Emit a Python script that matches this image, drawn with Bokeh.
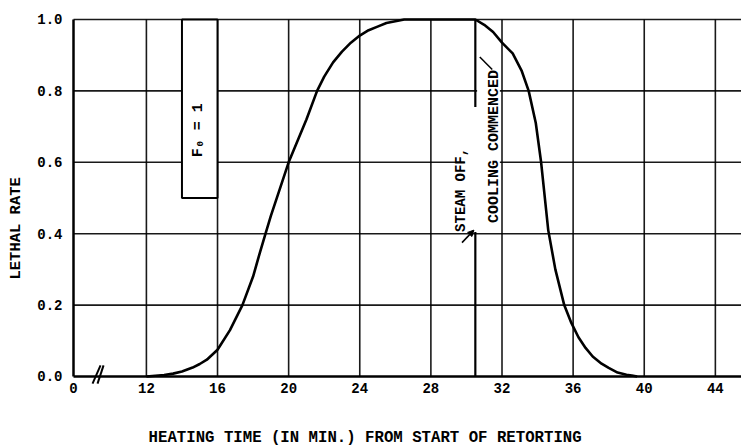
from bokeh.plotting import figure
from bokeh.models import FixedTicker, Label, Arrow, NormalHead
from bokeh.embed import file_html
from bokeh.resources import INLINE
import math

# ---- data ----
time_min = [12, 13, 13.5, 14, 14.6, 15, 15.4, 16, 16.7, 17.4, 18, 18.4, 18.7, 19, 20, 21,
            21.6, 22, 22.5, 23, 23.5, 24, 24.5, 25, 25.5, 26, 26.5, 30.5, 31, 31.5, 32, 32.6,
            33.1, 33.5, 33.9, 34.2, 34.6, 35.0, 35.5, 35.9, 36.3, 36.7, 37.1, 37.6, 38.0,
            38.5, 39.0, 39.3, 39.6]
lethal_rate = [0, 0.004, 0.008, 0.014, 0.025, 0.035, 0.047, 0.075, 0.13, 0.2, 0.28, 0.35, 0.4,
               0.45, 0.6, 0.72, 0.8, 0.84, 0.88, 0.91, 0.935, 0.955, 0.97, 0.98, 0.99, 0.995,
               1.0, 1.0, 0.985, 0.965, 0.935, 0.905, 0.857, 0.8, 0.71, 0.6, 0.41, 0.3, 0.2,
               0.15, 0.11, 0.08, 0.056, 0.036, 0.024, 0.011, 0.005, 0.003, 0.0]

x_origin = 7.9          # where the broken time axis shows "0"
x_end = 45.47
x_ticks = [7.9, 12, 16, 20, 24, 28, 32, 36, 40, 44]
x_tick_labels = ["0", "12", "16", "20", "24", "28", "32", "36", "40", "44"]
x_grid = [12, 16, 20, 24, 28, 32, 36, 40, 44]
y_ticks = [0.0, 0.2, 0.4, 0.6, 0.8, 1.0]
y_tick_labels = ["0.0", "0.2", "0.4", "0.6", "0.8", "1.0"]
y_grid = [0.2, 0.4, 0.6, 0.8, 1.0]

x_title = "HEATING TIME (IN MIN.) FROM START OF RETORTING"
y_title = "LETHAL RATE"

steam_off_time = 30.5
steam_line_y0 = [1.0, 0.405]
steam_line_y1 = [0.755, 0.0]

f0_box = dict(left=14, right=16, bottom=0.5, top=1.0)

# gaps in the grid around the hand-typed notes
mask_left = [29.9, 30.6]
mask_right = [31.88, 31.88]
mask_bottom = [0.45, 0.76]
mask_top = [0.75, 0.84]

# axis-break mark "//"
break_x0 = [8.97, 9.25]
break_x1 = [9.42, 9.59]
break_y0 = [-0.02, -0.02]
break_y1 = [0.031, 0.031]

FONT = "Liberation Mono"

# the frame covers the whole page; axes are pinned at the chart's origin
p = figure(width=741, height=448, output_backend="svg", toolbar_location=None,
           x_range=(3.794, x_end), y_range=(-0.2017, 1.0532),
           min_border_left=0, min_border_right=0, min_border_top=0, min_border_bottom=0)
p.outline_line_color = None
p.background_fill_color = "white"
p.border_fill_color = "white"
p.grid.visible = False

# axes
p.xaxis.fixed_location = 0
p.yaxis.fixed_location = x_origin
p.xaxis.bounds = (x_origin, x_end)
p.yaxis.bounds = (0, 1)
p.xaxis.ticker = FixedTicker(ticks=x_ticks)
p.xaxis.major_label_overrides = {t: l for t, l in zip(x_ticks, x_tick_labels)}
p.yaxis.ticker = FixedTicker(ticks=y_ticks)
p.yaxis.major_label_overrides = {t: l for t, l in zip(y_ticks, y_tick_labels)}
for ax in (p.xaxis, p.yaxis):
    ax.major_tick_in = 0
    ax.major_tick_out = 0
    ax.minor_tick_in = 0
    ax.minor_tick_out = 0
    ax.axis_line_color = "black"
    ax.axis_line_width = 2.5
    ax.major_label_text_font = FONT
    ax.major_label_text_font_style = "bold"
    ax.major_label_text_font_size = "14px"
    ax.major_label_text_color = "black"
p.xaxis.major_label_standoff = 7
p.yaxis.major_label_standoff = 11

# grid lines, limited to the chart area
p.segment(x0=x_grid, y0=[0] * len(x_grid), x1=x_grid, y1=[1] * len(x_grid),
          line_color="black", line_width=1.6, line_alpha=0.9)
p.segment(x0=[x_origin] * len(y_grid), y0=y_grid, x1=[x_end] * len(y_grid), y1=y_grid,
          line_color="black", line_width=1.6, line_alpha=0.9)

# gaps in the grid where the notes are typed
p.quad(left=mask_left, right=mask_right, bottom=mask_bottom, top=mask_top,
       fill_color="white", line_color=None)

# F0 box
p.quad(left=[f0_box["left"]], right=[f0_box["right"]], bottom=[f0_box["bottom"]],
       top=[f0_box["top"]], fill_color="white", line_color="black", line_width=2)

# steam off line
p.segment(x0=[steam_off_time] * 2, y0=steam_line_y0, x1=[steam_off_time] * 2, y1=steam_line_y1,
          line_color="black", line_width=2.2)

# axis break
p.segment(x0=break_x0, y0=break_y0, x1=break_x1, y1=break_y1, line_color="black", line_width=2)

# lethal rate curve
p.line(time_min, lethal_rate, line_color="black", line_width=2.6)

# axis titles
p.add_layout(Label(x=24.3, y=-0.171, text=x_title, text_align="center",
                   text_baseline="middle", text_font=FONT, text_font_style="bold",
                   text_font_size="15.7px", text_color="black"))
p.add_layout(Label(x=4.64, y=0.415, text=y_title, angle=math.pi / 2, text_align="center",
                   text_baseline="middle", text_font=FONT, text_font_style="bold",
                   text_font_size="15.5px", text_color="black"))

# annotations
p.add_layout(Label(x=14.95, y=0.69, text="F\u2080 = 1", angle=math.pi / 2,
                   text_align="center", text_baseline="middle", text_font=FONT,
                   text_font_style="bold", text_font_size="15px", text_color="black"))
p.add_layout(Label(x=29.72, y=0.405, text="STEAM OFF,", angle=math.pi / 2,
                   text_align="left", text_baseline="middle", text_font=FONT,
                   text_font_style="bold", text_font_size="14px", text_color="black"))
p.add_layout(Label(x=31.6, y=0.43, text="COOLING COMMENCED", angle=math.pi / 2,
                   text_align="left", text_baseline="middle", text_font=FONT,
                   text_font_style="bold", text_font_size="15px", text_color="black"))
p.add_layout(Arrow(x_start=29.75, y_start=0.375, x_end=30.42, y_end=0.41,
                   line_width=1.5, line_color="black",
                   end=NormalHead(size=6, fill_color="black", line_color="black")))
p.add_layout(Arrow(x_start=31.45, y_start=0.86, x_end=30.75, y_end=0.895,
                   line_width=1.5, line_color="black", end=None))

open("out.html", "w").write(file_html(p, INLINE))
